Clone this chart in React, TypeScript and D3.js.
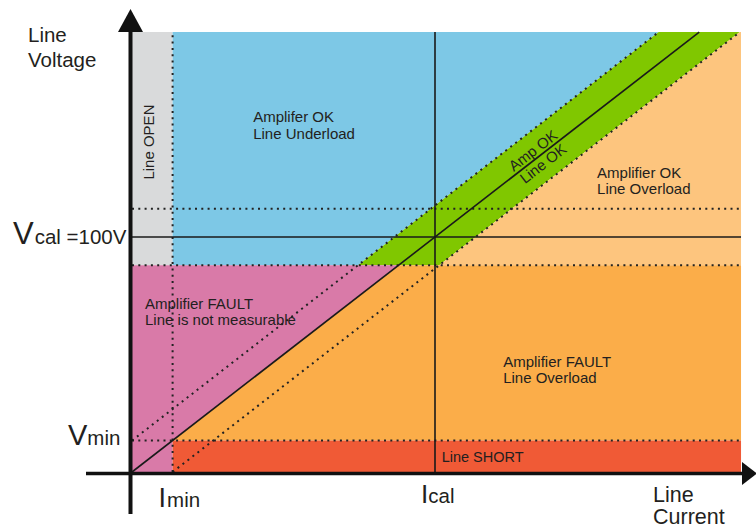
import React from "react";
import * as d3 from "d3";

// ---- data (in "percent of calibration" units) ----
const currentLevels = [13.4, 100, 201]; // Imin, Ical, Imax (plot edge)
const voltageLevels = [13.4, 88, 100, 112, 187.2]; // Vmin, band low, Vcal, band high, Vmax (plot edge)
const bandOffset = 13.4; // width of the Amp OK / Line OK band around the load line

const regionNames = ["Line OPEN", "Underload", "Line OK", "OK Overload", "Not measurable", "FAULT Overload", "Line SHORT"];
const regionColors = ["#d9dadb", "#7dc8e6", "#80c700", "#fdc57e", "#d97aa8", "#fbad49", "#f05a36"];

const labelLines = [
  ["Amplifer OK", "Line Underload"],
  ["Amplifier OK", "Line Overload"],
  ["Amplifier FAULT", "Line is not measurable"],
  ["Amplifier FAULT", "Line Overload"],
  ["Line SHORT"],
];
const labelAnchorsI = [40, 153.5, 4.3, 122.5, 102.2];
const labelAnchorsV = [149.1, 125, 69.4, 44.5, 4.4];
const labelLineGap = [17.5, 16, 16, 15.5, 0];
const labelSizes = [15, 15, 15, 15, 14.5];

const W = 756;
const H = 528;
const FONT = "'Liberation Sans', Arial, Helvetica, sans-serif";
const INK = "#231f20";

export default function App() {
  const [iMin, iCal, iMax] = currentLevels;
  const [vMin, vLow, vCal, vHigh, vMax] = voltageLevels;

  const x = d3.scaleLinear().domain([0, 100]).range([132, 435]);
  const y = d3.scaleLinear().domain([0, 100]).range([472, 237]);

  const line = d3
    .line<[number, number]>()
    .x((d) => x(d[0]))
    .y((d) => y(d[1]));
  const poly = (pts: [number, number][]) => line(pts) + "Z";

  const regions: [number, number][][] = [
    [[0, vLow], [iMin, vLow], [iMin, vMax], [0, vMax]],
    [[iMin, vLow], [vLow - bandOffset, vLow], [vMax - bandOffset, vMax], [iMin, vMax]],
    [[vLow - bandOffset, vLow], [vLow + bandOffset, vLow], [vMax + bandOffset, vMax], [vMax - bandOffset, vMax]],
    [[vLow + bandOffset, vLow], [iMax, vLow], [iMax, vMax], [vMax + bandOffset, vMax]],
    [[0, 0], [iMin, 0], [iMin, vMin], [vLow, vLow], [0, vLow]],
    [[iMin, vMin], [iMax, vMin], [iMax, vLow], [vLow, vLow]],
    [[iMin, 0], [iMax, 0], [iMax, vMin], [iMin, vMin]],
  ];

  const dotted: [number, number][][] = [
    [[0, vMin], [iMax, vMin]],
    [[0, vLow], [iMax, vLow]],
    [[0, vHigh], [iMax, vHigh]],
    [[iMin, 0], [iMin, vMax]],
    [[0, bandOffset], [vMax - bandOffset, vMax]],
    [[bandOffset, 0], [vMax + bandOffset, vMax]],
  ];
  const solid: [number, number][][] = [
    [[0, vCal], [iMax, vCal]],
    [[iCal, 0], [iCal, vMax]],
    [[0, 0], [vMax, vMax]],
  ];

  const angle = (Math.atan2(y(100) - y(0), x(100) - x(0)) * 180) / Math.PI;
  const bandLabelI = 134;

  const axX = 130.5;
  const axY = 473.5;

  return (
    <div style={{ position: "absolute", left: 0, top: 0 }}>
      <svg width={W} height={H} style={{ display: "block", background: "#fff" }} fontFamily={FONT}>
        {regions.map((r, i) => (
          <path key={regionNames[i]} d={poly(r)} fill={regionColors[i]} />
        ))}

        {dotted.map((d, i) => (
          <path
            key={"dot" + i}
            d={line(d) || ""}
            fill="none"
            stroke="#222"
            strokeWidth={2}
            strokeDasharray="2 4.3"
          />
        ))}
        {solid.map((d, i) => (
          <path key={"sol" + i} d={line(d) || ""} fill="none" stroke="#1a1a1a" strokeWidth={1.6} />
        ))}

        {/* region labels */}
        {labelLines.map((lines, i) => (
          <text
            key={"lab" + i}
            x={x(labelAnchorsI[i])}
            y={y(labelAnchorsV[i])}
            fontSize={labelSizes[i]}
            fill={INK}
          >
            {lines.map((t, j) => (
              <tspan key={j} x={x(labelAnchorsI[i])} dy={j === 0 ? 0 : labelLineGap[i]}>
                {t}
              </tspan>
            ))}
          </text>
        ))}

        <text
          transform={`translate(${x(7.3)},${y(140.4)}) rotate(-90)`}
          textAnchor="middle"
          fontSize={15}
          fill={INK}
        >
          Line OPEN
        </text>

        <g transform={`translate(${x(bandLabelI)},${y(bandLabelI)}) rotate(${angle})`}>
          <text textAnchor="middle" y={-3} fontSize={15} fill={INK}>
            Amp OK
          </text>
          <text textAnchor="middle" y={13.5} fontSize={15} fill={INK}>
            Line OK
          </text>
        </g>

        {/* axes */}
        <line x1={axX} x2={axX} y1={30} y2={514} stroke="#111" strokeWidth={4} />
        <path d={`M${axX},9 L${axX + 12.5},32 L${axX - 12.5},32 Z`} fill="#111" />
        <line x1={86} x2={744} y1={axY} y2={axY} stroke="#111" strokeWidth={3.7} />
        <path d={`M757,${axY} L742,${axY - 11.5} L742,${axY + 11.5} Z`} fill="#111" />

        {/* axis titles */}
        <text x={28} y={42} fontSize={20.5} fill={INK}>
          Line
        </text>
        <text x={28} y={67} fontSize={20.5} fill={INK}>
          Voltage
        </text>
        <text x={653} y={502} fontSize={21.5} fill={INK}>
          Line
        </text>
        <text x={653} y={524} fontSize={21.5} fill={INK}>
          Current
        </text>

        {/* level labels */}
        <text x={13} y={y(vCal) + 7} fill={INK}>
          <tspan fontSize={31}>V</tspan>
          <tspan fontSize={20.5} dx={1}>cal =100V</tspan>
        </text>
        <text x={68} y={y(vMin) + 4.5} fill={INK}>
          <tspan fontSize={29}>V</tspan>
          <tspan fontSize={20.5} dx={0}>min</tspan>
        </text>
        <text x={x(iMin) - 14} y={507} fill={INK}>
          <tspan fontSize={27}>I</tspan>
          <tspan fontSize={20.5} dx={1}>min</tspan>
        </text>
        <text x={x(iCal) - 14} y={503} fill={INK}>
          <tspan fontSize={26}>I</tspan>
          <tspan fontSize={20.5} dx={0}>cal</tspan>
        </text>
      </svg>
    </div>
  );
}
